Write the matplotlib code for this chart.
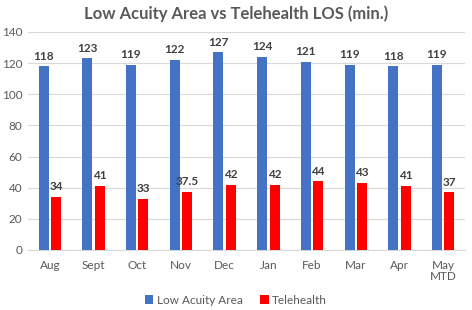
import matplotlib
matplotlib.use('Agg')
import matplotlib.pyplot as plt
import numpy as np

months = ['Aug', 'Sept', 'Oct', 'Nov', 'Dec', 'Jan', 'Feb', 'Mar', 'Apr', 'May\nMTD']
low_acuity = [118, 123, 119, 122, 127, 124, 121, 119, 118, 119]
telehealth = [34, 41, 33, 37.5, 42, 42, 44, 43, 41, 37]
low_labels = ['118', '123', '119', '122', '127', '124', '121', '119', '118', '119']
tele_labels = ['34', '41', '33', '37.5', '42', '42', '44', '43', '41', '37']

plt.rcParams['font.family'] = ['Lato', 'DejaVu Sans']
grey = '#595959'

fig = plt.figure(figsize=(4.72, 3.10), dpi=100)
ax = fig.add_axes([28 / 472, 1 - 250 / 310, 437 / 472, 218 / 310])

x = np.arange(len(months))
w = 0.23
b1 = ax.bar(x - w / 2 - 0.027, low_acuity, w, color='#4472C4', label='Low Acuity Area', zorder=3)
b2 = ax.bar(x + w / 2 + 0.027, telehealth, w, color='#FF0000', label='Telehealth', zorder=3)

for rect, t in zip(b1, low_labels):
    ax.text(rect.get_x() + rect.get_width() / 2, rect.get_height() + 3, t,
            ha='center', va='bottom', fontsize=8.5, fontweight='bold', color='#404040')
for rect, t in zip(b2, tele_labels):
    ax.text(rect.get_x() + rect.get_width() / 2, rect.get_height() + 3, t,
            ha='center', va='bottom', fontsize=8.5, fontweight='bold', color='#404040')

ax.set_xlim(-0.5, len(months) - 0.5)
ax.set_ylim(0, 140)
ax.set_yticks(range(0, 141, 20))
ax.yaxis.grid(True, color='#d9d9d9', linewidth=0.8, zorder=0)
ax.set_xticks(x)
ax.set_xticklabels(months, linespacing=1.0)
ax.tick_params(axis='both', length=0, labelsize=8.5, labelcolor=grey, pad=4)
ax.tick_params(axis='x', pad=7)
for s in ['top', 'right', 'left']:
    ax.spines[s].set_visible(False)
ax.spines['bottom'].set_color('#d9d9d9')

fig.text(0.5, 1 - 14 / 310, 'Low Acuity Area vs Telehealth LOS (min.)', ha='center', va='center',
         fontsize=12, fontweight='bold', color=grey)

fig.legend(handles=[b1, b2], loc='center', bbox_to_anchor=(0.5, 1 - 300 / 310), ncol=2,
           frameon=False, fontsize=8.5, handlelength=0.7, handleheight=0.7, handletextpad=0.3,
           columnspacing=1.5, labelcolor=grey)

fig.savefig('out.png', dpi=100)
